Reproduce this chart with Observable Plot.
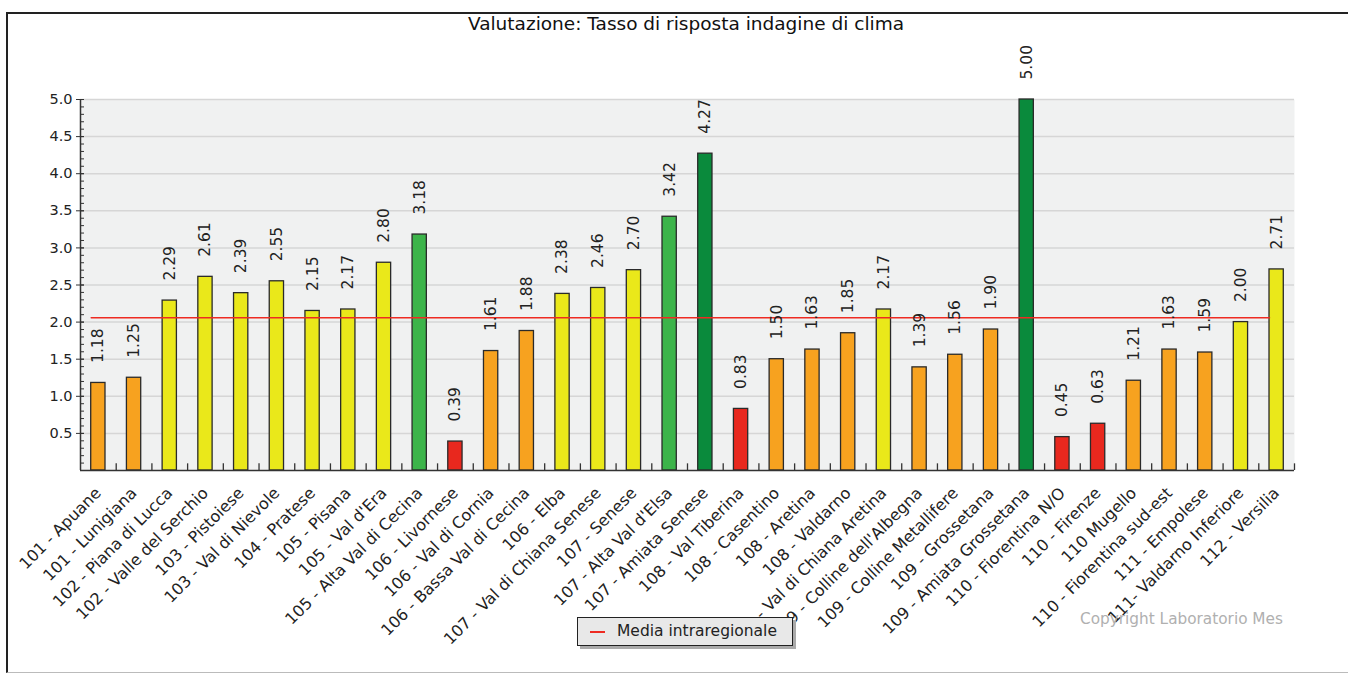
<!DOCTYPE html>
<html>
<head>
<meta charset="utf-8">
<script src="https://cdn.jsdelivr.net/npm/d3@7"></script>
<script src="https://cdn.jsdelivr.net/npm/@observablehq/plot@0.6"></script>
<style>
  html, body { margin: 0; padding: 0; background: #fff; }
  #wrap { position: relative; width: 1348px; height: 676px; overflow: hidden; font-family: "DejaVu Sans", sans-serif; }
  #border { position: absolute; left: 6px; top: 12px; width: 1400px; height: 661px; border-top: 2px solid #222; border-left: 2px solid #222; border-bottom: 1px solid #bbb; box-sizing: border-box; }
  #chart { position: absolute; left: 0; top: 0; }
  #title { position: absolute; left: 0; width: 1372px; top: 13px; text-align: center; font-size: 18.5px; color: #111; }
  #legend { position: absolute; left: 577px; top: 617px; width: 216px; height: 29px; background: #e8e8e8; border: 1px solid #222; box-shadow: 3px 3px 0 #aaa; box-sizing: border-box; font-size: 15.5px; color: #222; }
  #legend .sw { position: absolute; left: 12px; top: 13px; width: 15px; height: 2px; background: #ee2b22; }
  #legend .lb { position: absolute; left: 39px; top: 4px; }
  #copy { position: absolute; left: 1080px; top: 610px; font-size: 15.3px; color: #b0b0b0; }
</style>
</head>
<body>
<div id="wrap">
  <div id="border"></div>
  <div id="chart"></div>
  <div id="title">Valutazione: Tasso di risposta indagine di clima</div>
  <div id="copy">Copyright Laboratorio Mes</div>
  <div id="legend"><div class="sw"></div><div class="lb">Media intraregionale</div></div>
</div>
<script>
const categories = [
  "101 - Apuane", "101 - Lunigiana", "102 - Piana di Lucca", "102 - Valle del Serchio",
  "103 - Pistoiese", "103 - Val di Nievole", "104 - Pratese", "105 - Pisana",
  "105 - Val d'Era", "105 - Alta Val di Cecina", "106 - Livornese", "106 - Val di Cornia",
  "106 - Bassa Val di Cecina", "106 - Elba", "107 - Val di Chiana Senese", "107 - Senese",
  "107 - Alta Val d'Elsa", "107 - Amiata Senese", "108 - Val Tiberina", "108 - Casentino",
  "108 - Aretina", "108 - Valdarno", "108 - Val di Chiana Aretina", "109 - Colline dell'Albegna",
  "109 - Colline Metallifere", "109 - Grossetana", "109 - Amiata Grossetana", "110 - Fiorentina N/O",
  "110 - Firenze", "110 Mugello", "110 - Fiorentina sud-est", "111 - Empolese",
  "111- Valdarno Inferiore", "112 - Versilia"
];
const values = [
  1.18, 1.25, 2.29, 2.61,
  2.39, 2.55, 2.15, 2.17,
  2.80, 3.18, 0.39, 1.61,
  1.88, 2.38, 2.46, 2.70,
  3.42, 4.27, 0.83, 1.50,
  1.63, 1.85, 2.17, 1.39,
  1.56, 1.90, 5.00, 0.45,
  0.63, 1.21, 1.63, 1.59,
  2.00, 2.71
];
const mediaIntraregionale = 2.06;
const yMajorTicks = [0.5, 1.0, 1.5, 2.0, 2.5, 3.0, 3.5, 4.0, 4.5, 5.0];
const yMinorTicks = d3.range(1, 51).map(i => i / 10);
const colorThresholds = [1, 2, 3, 4];
const colorRange = ["#e8281e", "#f7a21f", "#eae81a", "#3cb44a", "#0a8a3c"];

const data = categories.map((c, i) => ({name: c, value: values[i]}));

const W = 1348, H = 676;
const mL = 80, mR = 54, mT = 99, mB = 206;
const padInner = 0.6;
const step = (W - mL - mR) / categories.length;
const bw = step * (1 - padInner);

const chart = Plot.plot({
  width: W,
  height: H,
  marginLeft: mL,
  marginRight: mR,
  marginTop: mT,
  marginBottom: mB,
  style: {fontFamily: "DejaVu Sans, sans-serif", fontSize: "15px", color: "#222", background: "transparent"},
  x: {domain: categories, paddingInner: padInner, paddingOuter: padInner / 2, round: false, label: null},
  y: {domain: [0, 5], label: null},
  color: {type: "threshold", domain: colorThresholds, range: colorRange},
  marks: [
    Plot.frame({fill: "#f0f1f1", stroke: null}),
    Plot.gridY(yMajorTicks, {stroke: "#d6d6d6", strokeOpacity: 1, strokeWidth: 1.5}),
    Plot.barY(data, {x: "name", y: "value", fill: "value", stroke: "#2a2a2a", strokeWidth: 1.3}),
    Plot.lineY(categories, {x: d => d, y: () => mediaIntraregionale, stroke: "#ee2b22", strokeWidth: 1.5, dx: -bw / 2}),
    Plot.text(data, {x: "name", y: "value", text: d => d.value.toFixed(2), rotate: -90, textAnchor: "start", dy: -20, fontSize: 15.5, fill: "#222"}),
    Plot.ruleY([0], {stroke: "#333", strokeWidth: 1.5}),
    Plot.ruleX([categories[0]], {y1: 0, y2: 5, dx: -step / 2, stroke: "#333", strokeWidth: 1.5}),
    Plot.ruleX(categories, {y1: 0, y2: 0.09, dx: step / 2, stroke: "#333", strokeWidth: 1.3}),
    Plot.axisY({ticks: yMajorTicks, tickFormat: d3.format(".1f"), tickSize: 4, tickPadding: 4, fontSize: 14.5, stroke: "#333"}),
    Plot.axisY({ticks: yMinorTicks, tickSize: 4, text: null, dx: 4, stroke: "#333"}),
    Plot.axisY({ticks: yMajorTicks, tickSize: 4, text: null, dx: 4, stroke: "#333"}),
    Plot.axisX({tickRotate: -45, tickSize: 0, tickPadding: 20, fontSize: 16, fill: "#222"})
  ]
});
document.getElementById("chart").appendChild(chart);
</script>
</body>
</html>
